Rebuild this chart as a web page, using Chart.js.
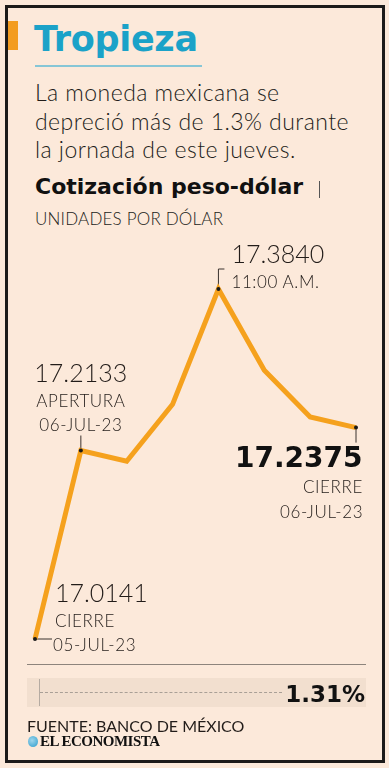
<!DOCTYPE html>
<html>
<head>
<meta charset="utf-8">
<script src="https://cdn.jsdelivr.net/npm/chart.js@4/dist/chart.umd.min.js"></script>
<style>
body{margin:0;background:#fce9da;width:389px;height:768px;overflow:hidden;position:relative;font-family:Lato,sans-serif;color:#221c19}
.t{position:absolute;white-space:nowrap;line-height:1}
#frame{position:absolute;left:5px;top:5px;width:374px;height:752px;border:3px solid #1d1b1a}
#wrap{position:absolute;left:0;top:0;width:389px;height:768px}
.light{font-weight:300}
</style>
</head>
<body>
<div id="frame"></div>
<div style="position:absolute;left:8px;top:21px;width:10px;height:29px;background:#f39c1f"></div>
<div class="t" style="left:34px;top:22px;font-size:35px;font-weight:bold;font-family:'DejaVu Sans';color:#1ba2c8;letter-spacing:-0.3px">Tropieza</div>
<div style="position:absolute;left:35px;top:65px;width:167px;height:1.5px;background:#86c6d6"></div>
<div class="t light" style="left:35px;top:81.3px;font-size:23px;letter-spacing:0.45px">La moneda mexicana se</div>
<div class="t light" style="left:35px;top:109.6px;font-size:23px;letter-spacing:0.45px">depreció más de 1.3% durante</div>
<div class="t light" style="left:35px;top:137.6px;font-size:23px;letter-spacing:0.45px">la jornada de este jueves.</div>
<div class="t" style="left:35px;top:176.4px;font-size:22px;font-weight:bold;font-family:'DejaVu Sans';color:#111">Cotización peso-dólar</div>
<div style="position:absolute;left:319px;top:181px;width:1px;height:17px;background:#555"></div>
<div class="t light" style="left:35px;top:210px;font-size:17px;letter-spacing:0.2px">UNIDADES POR DÓLAR</div>

<div id="wrap"><canvas id="line-chart"></canvas></div>

<div style="position:absolute;left:27px;top:664px;width:339px;height:1px;background:#8d847c"></div>
<div style="position:absolute;left:27px;top:678px;width:339px;height:29px;background:#f2dfcf"></div>
<div style="position:absolute;left:39px;top:679px;width:1px;height:27px;background:#b5aba2"></div>
<div style="position:absolute;left:40px;top:692px;width:242px;border-top:1px dashed #a99f96"></div>
<div class="t" style="right:24px;top:683px;font-size:23px;font-weight:bold;font-family:'DejaVu Sans';color:#111">1.31%</div>
<div class="t" style="left:27px;top:717.5px;font-size:16px">FUENTE: BANCO DE MÉXICO</div>
<div style="position:absolute;left:28px;top:736px;width:10px;height:11px;border-radius:50%;background:radial-gradient(circle at 40% 40%,#9fd6ec,#2c9ccc)"></div>
<div class="t" style="left:40px;top:734.4px;font-size:15px;font-weight:bold;font-family:'Liberation Serif';letter-spacing:-0.5px;color:#111">EL ECONOMISTA</div>

<script>
// datos: cotización peso-dólar
const labels = ['Cierre 05-jul-23', 'Apertura 06-jul-23', '', '', '11:00 a.m.', '', '', 'Cierre 06-jul-23'];
const values = [17.0141, 17.2133, 17.2020, 17.2621, 17.3840, 17.2981, 17.2487, 17.2375];
const calloutIndex = [0, 1, 4, 7];
const calloutNotes = [['CIERRE', '05-JUL-23'], ['APERTURA', '06-JUL-23'], ['11:00 A.M.'], ['CIERRE', '06-JUL-23']];

// where each callout sits relative to its point
const calloutLayout = [
  { align: 'left', leader: [[17, 0]], base: [-37, -11.7, 11.7], ndx: [20, 20, 18] },
  { align: 'center', leader: [[0, -15]], base: [-68.3, -43.3, -19.3], ndx: [0, 0, 0] },
  { align: 'left', leader: [[0, -20], [6, -20]], base: [-26.3, -1], ndx: [13, 13] },
  { align: 'right', leader: [[0, 15]], base: [39.7, 65.7, 90], ndx: [7, 7, 7], bold: true }
];

const calloutEls = [];
calloutIndex.forEach((idx, k) => {
  const lines = [values[idx].toFixed(4)].concat(calloutNotes[k]);
  calloutEls.push(lines.map((txt, j) => {
    const el = document.createElement('div');
    el.className = 't';
    el.textContent = txt;
    if (j === 0 && calloutLayout[k].bold) {
      el.style.fontFamily = "'DejaVu Sans'";
      el.style.fontWeight = 'bold';
      el.style.fontSize = '28px';
      el.style.color = '#111';
      el.dataset.k = 0.846;
    } else if (j === 0) {
      el.style.fontWeight = '300';
      el.style.fontSize = '25px';
      el.dataset.k = 0.887;
    } else {
      el.style.fontWeight = '300';
      el.style.fontSize = '17px';
      el.style.letterSpacing = '0.6px';
      el.dataset.k = 0.887;
    }
    document.body.appendChild(el);
    return el;
  }));
});

const callouts = {
  id: 'callouts',
  beforeDatasetsDraw(chart) {
    const ctx = chart.ctx;
    const meta = chart.getDatasetMeta(0);
    ctx.save();
    ctx.strokeStyle = '#3a322e';
    ctx.lineWidth = 1;
    calloutIndex.forEach((idx, k) => {
      const p = meta.data[idx];
      ctx.beginPath();
      ctx.moveTo(p.x, p.y);
      calloutLayout[k].leader.forEach(d => ctx.lineTo(p.x + d[0], p.y + d[1]));
      ctx.stroke();
    });
    ctx.restore();
  },
  afterDraw(chart) {
    const meta = chart.getDatasetMeta(0);
    calloutIndex.forEach((idx, k) => {
      const p = meta.data[idx];
      const lay = calloutLayout[k];
      calloutEls[k].forEach((el, j) => {
        const size = parseFloat(el.style.fontSize);
        const x = p.x + lay.ndx[j];
        el.style.top = (p.y + lay.base[j] - el.dataset.k * size) + 'px';
        const w = el.offsetWidth;
        if (lay.align === 'left') el.style.left = x + 'px';
        else if (lay.align === 'center') el.style.left = (x - w / 2) + 'px';
        else el.style.left = (x - w) + 'px';
      });
    });
  }
};

new Chart(document.getElementById('line-chart'), {
  type: 'line',
  data: {
    labels: labels,
    datasets: [{
      label: 'Pesos por dólar',
      data: values,
      borderColor: '#f5a11d',
      borderWidth: 5,
      borderJoinStyle: 'miter',
      tension: 0,
      clip: false,
      pointRadius: c => calloutIndex.includes(c.dataIndex) ? 2 : 0,
      pointBackgroundColor: '#1a1a1a',
      pointBorderWidth: 0
    }]
  },
  options: {
    responsive: true,
    maintainAspectRatio: false,
    animation: false,
    events: [],
    layout: { padding: { left: 35, right: 33, top: 289, bottom: 129 } },
    scales: {
      x: { display: false },
      y: { display: false, min: Math.min(...values), max: Math.max(...values) }
    },
    plugins: {
      legend: { display: false },
      tooltip: { enabled: false }
    }
  },
  plugins: [callouts]
});
</script>
</body>
</html>
